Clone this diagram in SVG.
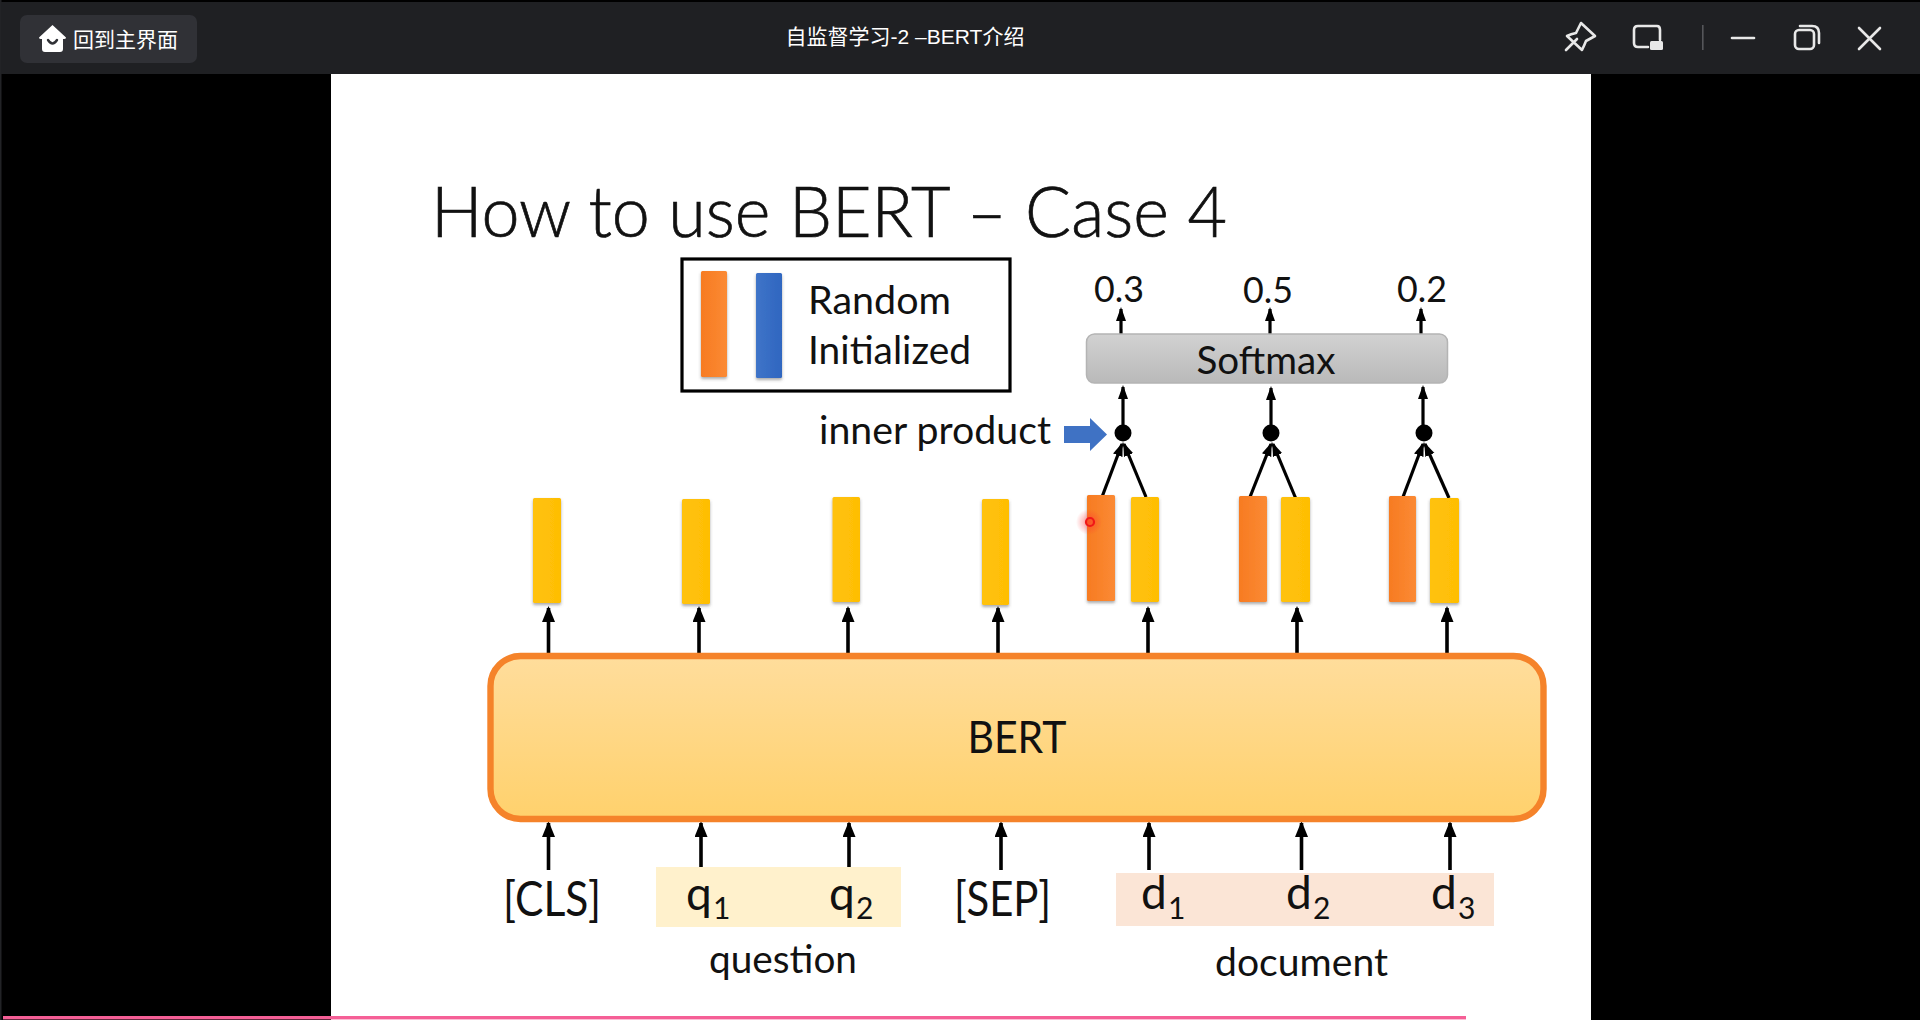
<svg xmlns="http://www.w3.org/2000/svg" width="1920" height="1020" viewBox="0 0 1920 1020">
<style>
.t{font-family:"Lato","Liberation Sans",sans-serif;fill:#111}
.ui{font-family:"Liberation Sans","Noto Sans CJK SC",sans-serif;fill:#fff}
.c{stroke:#000;stroke-width:3.6;fill:none;marker-end:url(#ah)}
.s{stroke:#000;stroke-width:3.2;fill:none;marker-end:url(#ahs)}
.y{fill:url(#gy);filter:url(#sh)}
.o{fill:url(#go);filter:url(#sh)}
.ic{fill:none;stroke:#e8e8e8;stroke-width:2.6;stroke-linecap:round;stroke-linejoin:round}
</style>
<defs>
<marker id="ah" markerUnits="userSpaceOnUse" markerWidth="16" markerHeight="14" refX="14" refY="6.500" orient="auto"><path d="M0 0L16 6.500L0 13z" fill="#000"/></marker>
<marker id="ahs" markerUnits="userSpaceOnUse" markerWidth="14" markerHeight="12" refX="12" refY="5" orient="auto"><path d="M0 0L14 5L0 10z" fill="#000"/></marker>
<linearGradient id="gy" x1="0" x2="1" y1="0" y2="0"><stop offset="0" stop-color="#FFC20A"/><stop offset="1" stop-color="#FFBE05"/></linearGradient>
<linearGradient id="go" x1="0" x2="1" y1="0" y2="0"><stop offset="0" stop-color="#F77B22"/><stop offset="1" stop-color="#FB8A34"/></linearGradient>
<linearGradient id="gb" x1="0" x2="1" y1="0" y2="0"><stop offset="0" stop-color="#3F74C8"/><stop offset="1" stop-color="#2F66C0"/></linearGradient>
<linearGradient id="gbert" x1="0" x2="0" y1="0" y2="1"><stop offset="0" stop-color="#FFDD9C"/><stop offset="1" stop-color="#FFD16C"/></linearGradient>
<linearGradient id="ggrey" x1="0" x2="0" y1="0" y2="1"><stop offset="0" stop-color="#D2D2D2"/><stop offset="1" stop-color="#B9B9B9"/></linearGradient>
<filter id="sh" x="-30%" y="-10%" width="160%" height="120%"><feDropShadow dx="0" dy="2" stdDeviation="1.8" flood-color="#555" flood-opacity="0.5"/></filter>
<radialGradient id="glow"><stop offset="0" stop-color="#ff3030" stop-opacity="0.55"/><stop offset="1" stop-color="#ff3030" stop-opacity="0"/></radialGradient>
</defs>

<rect width="1920" height="1020" fill="#000"/>
<rect x="0" y="0" width="1.500" height="1020" fill="#222326"/>
<g id="titlebar">
<rect x="1" y="2" width="1919" height="72" fill="#1F2023"/>
<rect x="20" y="15" width="177" height="48" rx="7" fill="#303136"/>
<path d="M52.500 25L66 37.500Q66 39 64 39H63V49Q63 52 60 52H45Q42 52 42 49V39H41Q39 39 39 37.500z" fill="#fff"/>
<path d="M48 40Q52.500 47 57 40" fill="none" stroke="#303136" stroke-width="2.400" stroke-linecap="round"/>
<text class="ui" x="73" y="47" font-size="21">回到主界面</text>
<text class="ui" x="905" y="43.500" font-size="21" text-anchor="middle">自监督学习-2 –BERT介绍</text>
<path class="ic" d="M1566 50L1577 39M1581 23L1595 36L1586 41Q1584 46 1582 50L1567 36Q1571 34 1576 33z"/>
<path class="ic" d="M1648 47H1638Q1634 47 1634 43V30Q1634 26 1638 26H1657Q1660 26 1660 30V40"/>
<rect x="1650" y="41" width="13" height="9" rx="1.500" fill="#e8e8e8"/>
<rect x="1702" y="25" width="1.600" height="25" fill="#55565a"/>
<path class="ic" d="M1732 38H1754"/>
<rect class="ic" x="1795" y="30" width="19" height="19" rx="4"/>
<path class="ic" d="M1800 26H1812Q1819 26 1819 33V43"/>
<path class="ic" d="M1859 28L1880 49M1880 28L1859 49"/>
</g>

<g id="slide">
<rect x="331" y="74" width="1260" height="946" fill="#fff"/>
<rect x="3" y="1016" width="1463" height="3.400" fill="#F55F96"/>
<text id="slide-title" class="t" x="431" y="237" font-size="70" font-weight="300" stroke="#111" stroke-width="0.700" textLength="796" lengthAdjust="spacingAndGlyphs">How to use BERT – Case 4</text>
</g>

<g id="legend">
<rect x="682" y="259" width="328" height="132" fill="#fff" stroke="#000" stroke-width="3.200"/>
<rect x="701" y="271" width="26" height="106" rx="1.500" class="o"/>
<rect x="756" y="273" width="26" height="105" rx="1.500" fill="url(#gb)" filter="url(#sh)"/>
<text class="t" x="808" y="314" font-size="39" textLength="143" lengthAdjust="spacingAndGlyphs">Random</text>
<text class="t" x="808" y="364" font-size="39" textLength="163" lengthAdjust="spacingAndGlyphs">Initialized</text>
</g>

<g id="connectors">
<path class="s" d="M1121 334V309"/><path class="s" d="M1270 334V309"/><path class="s" d="M1421 334V309"/>
<path class="s" d="M1123 430V387"/><path class="s" d="M1271 430V388"/><path class="s" d="M1423 430V387"/>
<path class="s" d="M1102 497L1122 444"/><path class="s" d="M1146 497L1124 444"/>
<path class="s" d="M1250 497L1271 444"/><path class="s" d="M1296 499L1273 444"/>
<path class="s" d="M1403 497L1423 444"/><path class="s" d="M1449 498L1425 444"/>
<path class="c" d="M548.500 657V608"/><path class="c" d="M699 657V608"/><path class="c" d="M848 657V608"/><path class="c" d="M998 657V608"/><path class="c" d="M1148 657V608"/><path class="c" d="M1297 657V608"/><path class="c" d="M1447 657V608"/>
<path class="c" d="M548.500 870V823"/><path class="c" d="M701 870V823"/><path class="c" d="M849 870V823"/><path class="c" d="M1001 870V823"/><path class="c" d="M1149 870V823"/><path class="c" d="M1301.500 870V823"/><path class="c" d="M1450 870V823"/>
</g>

<g id="softmax">
<rect x="1086.500" y="334" width="361" height="49" rx="8" fill="url(#ggrey)" stroke="#B4B4B4" stroke-width="1.500"/>
<text class="t" x="1266" y="374" font-size="39" text-anchor="middle" textLength="139" lengthAdjust="spacingAndGlyphs">Softmax</text>
</g>
<g id="scores">
<text class="t" x="1119" y="302" font-size="37" text-anchor="middle" textLength="50" lengthAdjust="spacingAndGlyphs">0.3</text>
<text class="t" x="1268" y="303" font-size="37" text-anchor="middle" textLength="50" lengthAdjust="spacingAndGlyphs">0.5</text>
<text class="t" x="1422" y="302" font-size="37" text-anchor="middle" textLength="50" lengthAdjust="spacingAndGlyphs">0.2</text>
</g>

<g id="inner-product">
<text class="t" x="819" y="444" font-size="39" textLength="232" lengthAdjust="spacingAndGlyphs">inner product</text>
<path d="M1064 426H1090V418L1107 434.500L1090 451V443H1064z" fill="#3F72C4"/>
<ellipse cx="1123" cy="433" rx="8.500" ry="8.500"/>
<ellipse cx="1271" cy="433" rx="8.500" ry="8.500"/>
<ellipse cx="1424" cy="433" rx="8.500" ry="8.500"/>
</g>

<g id="outputs">
<rect class="y" x="533" y="498" width="28" height="105" rx="1.500"/>
<rect class="y" x="682" y="499" width="28" height="105" rx="1.500"/>
<rect class="y" x="832.500" y="497" width="27.500" height="105" rx="1.500"/>
<rect class="y" x="982" y="499" width="27" height="106" rx="1.500"/>
<rect class="o" x="1087" y="495" width="28" height="106" rx="1.500"/>
<rect class="y" x="1131" y="497" width="28" height="105" rx="1.500"/>
<rect class="o" x="1239" y="496" width="28" height="106" rx="1.500"/>
<rect class="y" x="1281" y="497" width="29" height="105" rx="1.500"/>
<rect class="o" x="1389" y="496" width="27" height="106" rx="1.500"/>
<rect class="y" x="1430" y="498" width="29" height="105" rx="1.500"/>
</g>

<g id="bert">
<rect x="490.500" y="656" width="1053" height="163" rx="30" fill="url(#gbert)" stroke="#F5832A" stroke-width="6.400"/>
<text class="t" x="1017" y="753" font-size="45" text-anchor="middle" textLength="99" lengthAdjust="spacingAndGlyphs">BERT</text>
</g>

<g id="inputs">
<rect x="656" y="867" width="245" height="60" fill="#FFF1CC"/>
<rect x="1116" y="873" width="378" height="53" fill="#FBE5D6"/>
<text class="t" x="503" y="916" font-size="48" textLength="98" lengthAdjust="spacingAndGlyphs">[CLS]</text>
<text class="t" x="686" y="910" font-size="46">q</text><text class="t" x="713" y="919" font-size="30">1</text>
<text class="t" x="829" y="910" font-size="46">q</text><text class="t" x="856" y="919" font-size="30">2</text>
<text class="t" x="954" y="916" font-size="48" textLength="97" lengthAdjust="spacingAndGlyphs">[SEP]</text>
<text class="t" x="1141" y="909" font-size="46">d</text><text class="t" x="1168" y="919" font-size="30">1</text>
<text class="t" x="1286" y="909" font-size="46">d</text><text class="t" x="1313" y="919" font-size="30">2</text>
<text class="t" x="1431" y="909" font-size="46">d</text><text class="t" x="1458" y="919" font-size="30">3</text>
<text class="t" x="709" y="973" font-size="39" textLength="148" lengthAdjust="spacingAndGlyphs">question</text>
<text class="t" x="1215" y="976" font-size="39" textLength="173" lengthAdjust="spacingAndGlyphs">document</text>
</g>

<g id="pointer">
<circle cx="1089" cy="522" r="13" fill="url(#glow)"/>
<circle cx="1090" cy="522" r="4" fill="none" stroke="#F01818" stroke-width="2.200"/>
</g>
</svg>
